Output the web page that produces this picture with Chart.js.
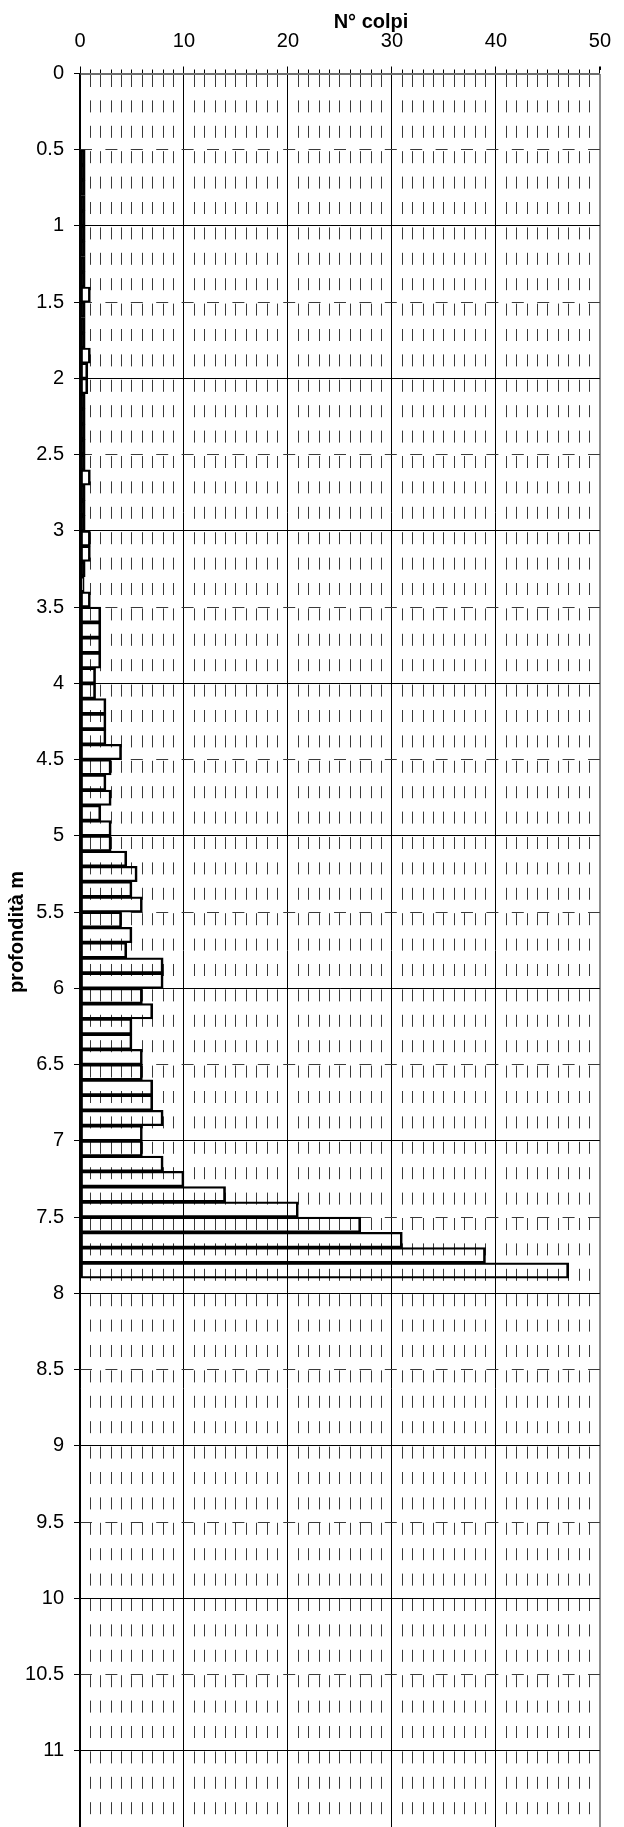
<!DOCTYPE html>
<html>
<head>
<meta charset="utf-8">
<title>Prova penetrometrica</title>
<script src="https://cdn.jsdelivr.net/npm/chart.js@4.4.0/dist/chart.umd.min.js"></script>
<style>
  html, body { margin: 0; padding: 0; background: #fff; }
  #wrap { position: relative; width: 624px; height: 1827px; }
</style>
</head>
<body>
<div id="wrap"><canvas id="penetroChart"></canvas></div>
<script>
// depth of the top of each 10 cm step (m)
const depthTop = [
  0.5, 0.6, 0.7, 0.8, 0.9, 1.0, 1.1, 1.2, 1.3, 1.4,
  1.5, 1.6, 1.7, 1.8, 1.9, 2.0, 2.1, 2.2, 2.3, 2.4,
  2.5, 2.6, 2.7, 2.8, 2.9, 3.0, 3.1, 3.2, 3.3, 3.4,
  3.5, 3.6, 3.7, 3.8, 3.9, 4.0, 4.1, 4.2, 4.3, 4.4,
  4.5, 4.6, 4.7, 4.8, 4.9, 5.0, 5.1, 5.2, 5.3, 5.4,
  5.5, 5.6, 5.7, 5.8, 5.9, 6.0, 6.1, 6.2, 6.3, 6.4,
  6.5, 6.6, 6.7, 6.8, 6.9, 7.0, 7.1, 7.2, 7.3, 7.4,
  7.5, 7.6, 7.7, 7.8
];
// N° colpi for each step
const nColpi = [
  0.5, 0.5, 0.5, 0.5, 0.5, 0.5, 0.5, 0.5, 0.5, 1,
  0.5, 0.5, 0.5, 1, 0.75, 0.75, 0.5, 0.5, 0.5, 0.5,
  0.5, 1, 0.5, 0.5, 0.5, 1, 1, 0.5, 0.4, 1,
  2, 2, 2, 2, 1.5, 1.5, 2.5, 2.5, 2.5, 4,
  3, 2.5, 3, 2, 3, 3, 4.5, 5.5, 5, 6,
  4, 5, 4.5, 8, 8, 6, 7, 5, 5, 6,
  6, 7, 7, 8, 6, 6, 8, 10, 14, 21,
  27, 31, 39, 47
];
const stepHeight = 0.1; // m per reading
const colpiTicks = [0, 10, 20, 30, 40, 50];
const depthTicks = [0, 0.5, 1, 1.5, 2, 2.5, 3, 3.5, 4, 4.5, 5, 5.5, 6, 6.5, 7, 7.5,
  8, 8.5, 9, 9.5, 10, 10.5, 11];
const depthMax = 11.5;

const FONT = '"Liberation Sans", Arial, sans-serif';
const DASH = [12, 13.4];

// axis titles are drawn where the original puts them
const axisTitles = {
  id: "axisTitles",
  afterDraw(chart) {
    const ctx = chart.ctx;
    ctx.save();
    ctx.fillStyle = "#000";
    ctx.font = "bold 20px " + FONT;
    ctx.textAlign = "center";
    ctx.textBaseline = "alphabetic";
    ctx.fillText("N° colpi", 371, 28);
    ctx.translate(22.5, 932);
    ctx.rotate(-Math.PI / 2);
    ctx.fillText("profondità m", 0, 0);
    ctx.restore();
  },
};

const ctx = document.getElementById("penetroChart").getContext("2d");
new Chart(ctx, {
  type: "bar",
  data: {
    datasets: [
      {
        label: "N° colpi",
        data: depthTop.map((d, i) => ({ y: d + stepHeight / 2, x: nColpi[i] })),
        backgroundColor: "rgba(0,0,0,0)",
        borderColor: "#000",
        borderWidth: { top: 1.5, bottom: 1.5, left: 2, right: 2 },
        borderSkipped: false,
        barPercentage: 1,
        categoryPercentage: 1,
        xAxisID: "x",
        yAxisID: "y",
      },
    ],
  },
  options: {
    indexAxis: "y",
    responsive: true,
    maintainAspectRatio: false,
    animation: false,
    layout: { padding: { top: 29.5, right: 11.5, left: 0, bottom: 0 } },
    plugins: {
      legend: { display: false },
      tooltip: { enabled: false },
    },
    scales: {
      // labelled top axis, solid lines every 10
      x: {
        type: "linear",
        position: "top",
        weight: 1,
        min: 0,
        max: 50,
        afterBuildTicks: (axis) => {
          axis.ticks = colpiTicks.map((v) => ({ value: v }));
        },
        afterFit: (s) => {
          s.height = 40;
        },
        ticks: {
          color: "#000",
          padding: 13,
          font: { family: FONT, size: 20 },
          callback: (v) => String(v),
        },
        grid: {
          color: (c) => (c.tick && c.tick.value === 50 ? "#8c8c8c" : "#000"),
          lineWidth: (c) => (c.tick && c.tick.value === 50 ? 2 : 1),
          tickColor: "#000",
          tickLength: 3,
        },
        border: { display: false },
      },
      // minor top axis, dashed lines every 1
      x2: {
        type: "linear",
        position: "top",
        weight: 0,
        min: 0,
        max: 50,
        afterFit: (s) => {
          s.height = 4;
        },
        ticks: { display: false, stepSize: 1 },
        grid: {
          color: (c) => (c.tick && c.tick.value % 10 === 0 ? "rgba(0,0,0,0)" : "#3a3a3a"),
          tickColor: "#000",
          tickLength: 4,
        },
        border: { display: true, color: "#6e6e6e", width: 2, dash: DASH },
      },
      y: {
        type: "linear",
        position: "left",
        weight: 1,
        reverse: true,
        offset: false,
        min: 0,
        max: depthMax,
        afterBuildTicks: (axis) => {
          axis.ticks = depthTicks.map((v) => ({ value: v }));
        },
        afterFit: (s) => {
          s.width = 80;
          s.paddingTop = 0;
          s.paddingBottom = 0;
        },
        ticks: {
          color: "#000",
          padding: 10,
          font: { family: FONT, size: 20 },
          callback: (v) => String(v),
        },
        grid: {
          offset: false,
          color: (c) => (c.tick && c.tick.value % 1 === 0 ? "#000" : "rgba(0,0,0,0)"),
          tickColor: "#000",
          tickLength: 6,
        },
        border: { display: true, color: "#000", width: 1.5 },
      },
      // dashed half-metre lines
      y2: {
        type: "linear",
        position: "left",
        weight: 0,
        reverse: true,
        offset: false,
        min: 0,
        max: depthMax,
        afterFit: (s) => {
          s.width = 0;
        },
        ticks: { display: false, stepSize: 0.5 },
        grid: {
          offset: false,
          color: (c) => (c.tick && c.tick.value % 1 !== 0 ? "#3a3a3a" : "rgba(0,0,0,0)"),
          drawTicks: false,
        },
        border: { display: false, dash: DASH },
      },
    },
  },
  plugins: [axisTitles],
});
</script>
</body>
</html>
